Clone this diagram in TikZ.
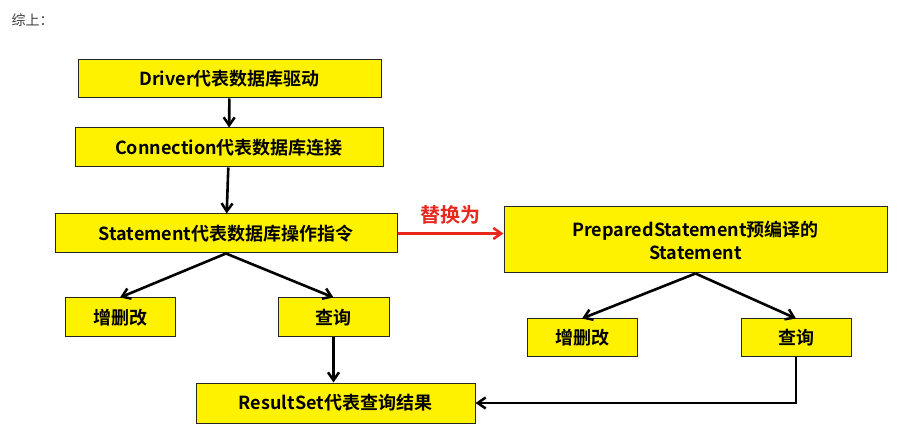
\documentclass[tikz,border=0pt]{standalone}
\usepackage{fontspec}
\setmainfont{Noto Sans CJK SC}[BoldFont={Noto Sans CJK SC Bold}]
\usepackage{tikz}
\usetikzlibrary{arrows.meta,positioning}
\definecolor{boxyellow}{RGB}{255,242,0}
\definecolor{arrowred}{RGB}{230,40,30}
\tikzset{
  ybox/.style={draw=black!85,fill=boxyellow,line width=1pt,inner sep=0pt,
    font=\fontsize{18}{23}\selectfont\bfseries,align=center},
  flow/.style={-{Straight Barb[length=8pt,width=11pt,line width=2.5pt]},line width=2.6pt}
}
\begin{document}
\begin{tikzpicture}[x=1pt,y=-1pt]
\useasboundingbox[fill=white] (0,0) rectangle (918,435);

% title
\node[anchor=west,font=\fontsize{14}{16}\selectfont,text=black!75] (title) at (8,20) {综上：};

% left column
\node[ybox,minimum width=303pt,minimum height=38pt] (driver) at (229.5,79) {Driver代表数据库驱动};
\node[ybox,minimum width=308pt,minimum height=39pt] (conn) at (229,147.5) {Connection代表数据库连接};
\node[ybox,minimum width=342pt,minimum height=39pt] (stmt) at (226,233.5) {Statement代表数据库操作指令};
\node[ybox,minimum width=110pt,minimum height=39pt] (cudl) at (120,317.5) {增删改};
\node[ybox,minimum width=111pt,minimum height=39pt] (queryl) at (333.5,317.5) {查询};
\node[ybox,minimum width=279pt,minimum height=40pt] (rset) at (335.5,403) {ResultSet代表查询结果};

% right column
\node[ybox,minimum width=383pt,minimum height=66pt] (pstmt) at (695.5,240)
  {PreparedStatement预编译的\\Statement};
\node[ybox,minimum width=110pt,minimum height=38pt] (cudr) at (582,338) {增删改};
\node[ybox,minimum width=110pt,minimum height=38pt] (queryr) at (796,338) {查询};

% connectors
\draw[flow] (driver) -- (conn);
\draw[flow] (conn) -- (stmt);
\draw[flow] (stmt.south) -- (cudl.north);
\draw[flow] (stmt.south) -- (queryl.north);
\draw[flow] (queryl) -- (rset.north -| queryl);
\draw[flow] (pstmt.south) -- (cudr.north);
\draw[flow] (pstmt.south) -- (queryr.north);
\draw[flow] (queryr.south) |- (rset.east);
\draw[flow,arrowred,line width=3pt] (stmt.east) -- (pstmt.west |- stmt.east)
  node[midway,above=4pt,font=\fontsize{20}{22}\selectfont\bfseries] (swap) {替换为};
\end{tikzpicture}
\end{document}
